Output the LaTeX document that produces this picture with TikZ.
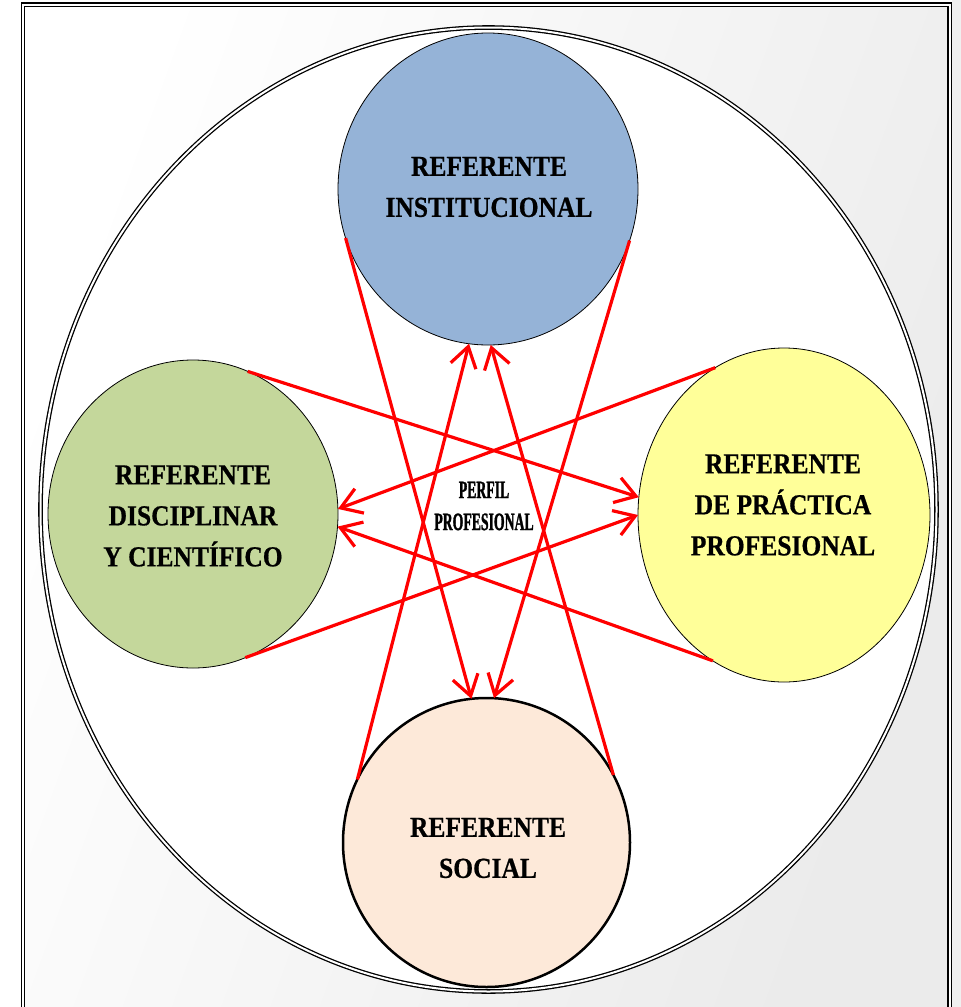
\documentclass[tikz,border=0pt]{standalone}
\usepackage{fontspec}
\setmainfont{Liberation Serif}
\newfontfamily\reffont{Liberation Serif}[FakeStretch=0.88,FakeBold=0.6]
\newfontfamily\perffont{Liberation Serif}[FakeStretch=0.55,FakeBold=1.2]
\usetikzlibrary{arrows.meta,shapes.geometric}
\begin{document}
\begin{tikzpicture}[x=1pt,y=-1pt,
  refnode/.style={ellipse, draw=black, line width=0.8pt, outer sep=0pt, inner sep=0pt},
  reftext/.style={align=center, inner sep=0pt, font=\reffont\bfseries\fontsize{29}{41}\selectfont},
  perftext/.style={align=center, inner sep=0pt, font=\perffont\bfseries\fontsize{25}{32}\selectfont},
  link/.style={draw=red, line width=3.2pt, -{Straight Barb[length=20pt,width=26pt]}},
  dblline/.style={double, double distance=2pt, line width=1.3pt, draw=black},
]
\useasboundingbox (0,0) rectangle (961,1007);
% background
\fill[white] (0,0) rectangle (961,1007);
\fill[black!6] (952,0) rectangle (961,1007);
\shade[left color=white, right color=black!8, shading angle=70] (23,5) rectangle (950,1007);
% frame
\draw[dblline] (23,4.5) rectangle (949.5,1020);
% outer ellipse
\draw[dblline, fill=white] (488.5,509.5) ellipse [x radius=448, y radius=482];
% circles
\node[refnode, fill={rgb,255:red,149;green,179;blue,215}, minimum width=300pt, minimum height=312pt] (inst) at (488,189) {};
\node[refnode, fill={rgb,255:red,196;green,215;blue,155}, minimum width=290pt, minimum height=308pt] (disc) at (193,514) {};
\node[refnode, fill={rgb,255:red,255;green,255;blue,153}, minimum width=292pt, minimum height=334pt] (prac) at (784,515) {};
\node[refnode, line width=2.5pt, fill={rgb,255:red,253;green,233;blue,217}, minimum width=287pt, minimum height=289pt] (soc) at (486.5,842.5) {};
% texts
\node[reftext] (instT) at (489,187) {REFERENTE\\INSTITUCIONAL};
\node[reftext] (discT) at (193,516) {REFERENTE\\DISCIPLINAR\\Y CIENTÍFICO};
\node[reftext] (pracT) at (783,505) {REFERENTE\\DE PRÁCTICA\\PROFESIONAL};
\node[reftext] (socT) at (488,848) {REFERENTE\\SOCIAL};
\node[perftext] (perfil) at (484,506) {PERFIL\\PROFESIONAL};
% connectors
\draw[link] (inst.199.6) -- (soc.96.6);
\draw[link] (inst.340.2) -- (soc.87.4);
\draw[link] (soc.154.2) -- (inst.263.5);
\draw[link] (soc.28.1) -- (inst.271.8);
\draw[link] (disc.69.7) -- (prac.173.4);
\draw[link] (disc.290.3) -- (prac.180.4);
\draw[link] (prac.115.1) -- (disc.2.4);
\draw[link] (prac.244.7) -- (disc.355.3);
\end{tikzpicture}
\end{document}
